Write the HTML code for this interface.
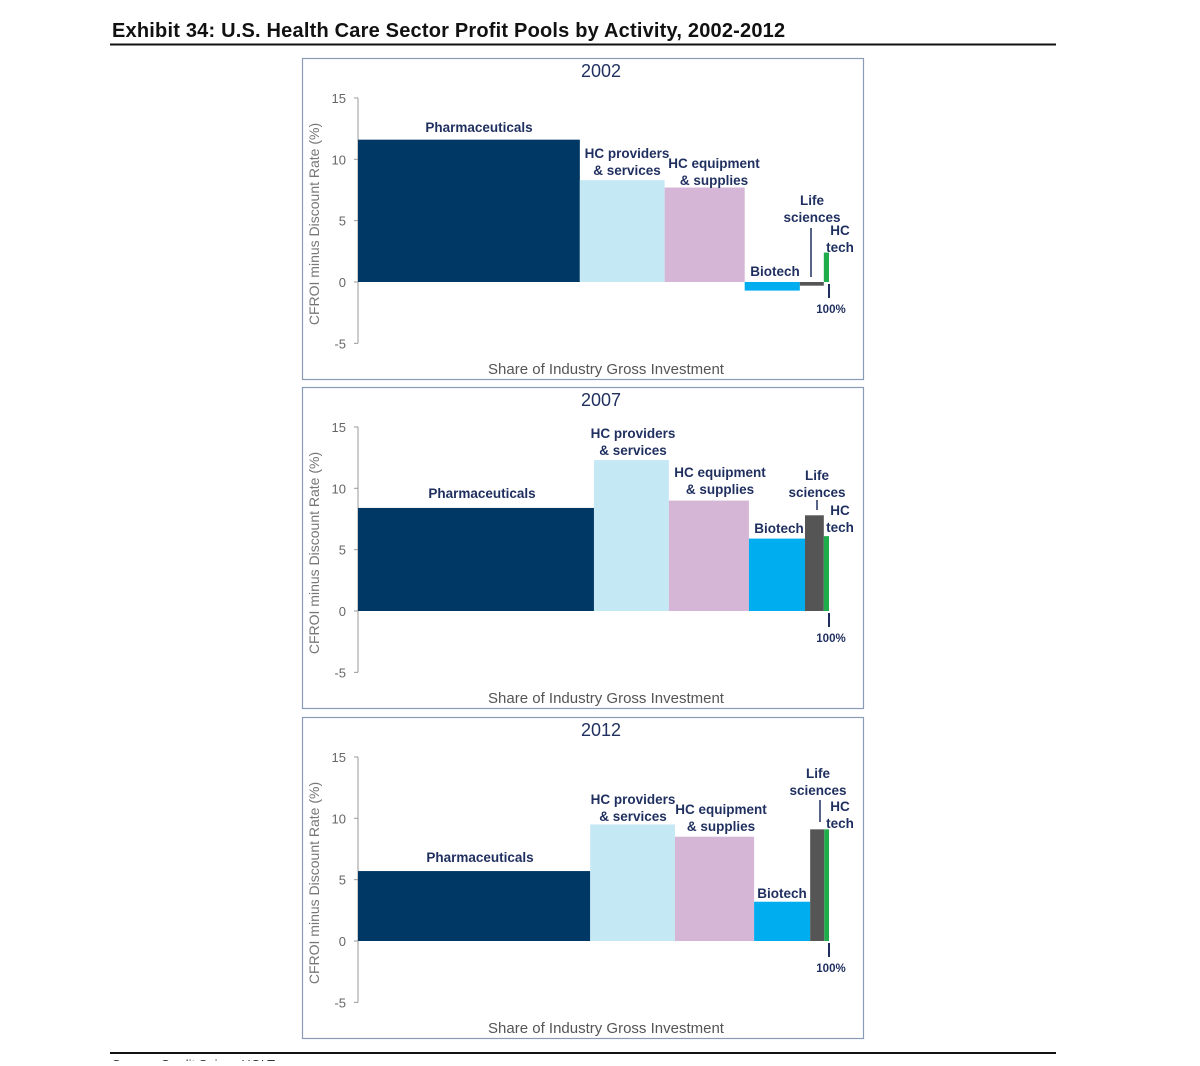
<!DOCTYPE html>
<html><head><meta charset="utf-8"><style>
body{margin:0;background:#fff;width:1200px;height:1061px;overflow:hidden;font-family:"Liberation Sans",sans-serif}
</style></head><body>
<svg id="chart" width="1200" height="1061" xmlns="http://www.w3.org/2000/svg" font-family="Liberation Sans, sans-serif">
<text x="112" y="37" font-size="20" font-weight="bold" fill="#111" letter-spacing="0.2">Exhibit 34: U.S. Health Care Sector Profit Pools by Activity, 2002-2012</text>
<line x1="110" y1="44.5" x2="1056" y2="44.5" stroke="#111" stroke-width="2"/>
<line x1="110" y1="1053" x2="1056" y2="1053" stroke="#111" stroke-width="2"/>
<text x="112" y="1069" font-size="13" fill="#333">Source: Credit Suisse HOLT</text>
<g id="panels"></g>
</svg>
<script>
const years = ["2002","2007","2012"];
const categories = ["Pharmaceuticals","HC providers & services","HC equipment & supplies","Biotech","Life sciences","HC tech"];
const shares2002 = [47.1,18.0,17.0,11.7,5.1,1.1];
const values2002 = [11.6,8.3,7.7,-0.7,-0.3,2.4];
const shares2007 = [50.1,15.9,17.0,11.9,4.0,1.1];
const values2007 = [8.4,12.3,9.0,5.9,7.8,6.1];
const shares2012 = [49.3,18.0,16.8,11.9,3.0,1.0];
const values2012 = [5.7,9.5,8.5,3.2,9.1,9.1];
const yTicks = [15,10,5,0,-5];
const colors = ["#003865","#c5e8f5","#d5b6d6","#00adef","#555555","#1fad4b"];
const sharesAll=[shares2002,shares2007,shares2012], valuesAll=[values2002,values2007,values2012];
const panelTops=[58,387,717];
const labelLayout=[
 [[479,132,["Pharmaceuticals"]],[627,158,["HC providers","& services"]],[714,168,["HC equipment","& supplies"]],[775,276,["Biotech"]],[812,205,["Life","sciences"]],[840,235,["HC","tech"]]],
 [[482,498,["Pharmaceuticals"]],[633,438,["HC providers","& services"]],[720,477,["HC equipment","& supplies"]],[779,533,["Biotech"]],[817,480,["Life","sciences"]],[840,515,["HC","tech"]]],
 [[480,862,["Pharmaceuticals"]],[633,804,["HC providers","& services"]],[721,814,["HC equipment","& supplies"]],[782,898,["Biotech"]],[818,778,["Life","sciences"]],[840,811,["HC","tech"]]]
];
const leaders=[[811,228,277],[817,500,510],[820,800,822]];
const NS="http://www.w3.org/2000/svg";
const root=document.getElementById("panels");
function mk(tag,attrs,parent){const e=document.createElementNS(NS,tag);for(const k in attrs)e.setAttribute(k,attrs[k]);(parent||root).appendChild(e);return e;}
years.forEach((yr,p)=>{
 const top=panelTops[p];
 const g=mk("g",{});
 
 
 const frame=mk("rect",{x:302.5,y:top+0.5,width:561,height:321,fill:"none",stroke:"#8a9bb8","stroke-width":1.2},g);
 
 
 const t=mk("text",{x:601,y:top+19,"font-size":18,"text-anchor":"middle",fill:"#1f2f5f"},g);t.textContent=yr;
 
 
 const x0=358,x1=829,zeroY=top+224,k=12.27;
 const Y=v=>zeroY-v*k, X=s=>x0+s/100*(x1-x0);
 const ax=mk("line",{x1:x0,x2:x0,y1:Y(15),y2:Y(-5),stroke:"#999","stroke-width":1},g);
 
 
 yTicks.forEach(v=>{
  mk("line",{x1:x0-4,x2:x0,y1:Y(v),y2:Y(v),stroke:"#999"},g);
  const tl=mk("text",{x:x0-12,y:Y(v)+5,"font-size":13,"text-anchor":"end",fill:"#666"},g);tl.textContent=v;
  
  
 });
 const at=mk("text",{transform:`translate(319,${zeroY-58}) rotate(-90)`,"font-size":14,"text-anchor":"middle",fill:"#777"},g);
 at.textContent="CFROI minus Discount Rate (%)";
 
 
 const xt=mk("text",{x:606,y:top+316,"font-size":15,"text-anchor":"middle",fill:"#555"},g);
 xt.textContent="Share of Industry Gross Investment";
 
 
 let cum=0;
 sharesAll[p].forEach((s,i)=>{
  const v=valuesAll[p][i];
  const xa=X(cum),xb=X(cum+s);cum+=s;
  const r=mk("rect",{x:xa,y:Math.min(Y(v),zeroY),width:xb-xa,height:Math.abs(Y(v)-zeroY),fill:colors[i]},g);
  
  
 });
 labelLayout[p].forEach((L,i)=>{
  const tx=mk("text",{x:L[0],y:L[1],"font-size":13.5,"font-weight":"bold","text-anchor":"middle",fill:"#1f2f5f"},g);
  L[2].forEach((ln,j)=>{const ts=mk("tspan",{x:L[0],dy:j?17:0},tx);ts.textContent=ln;});
  
  
 });
 const ld=leaders[p];
 mk("line",{x1:ld[0],x2:ld[0],y1:ld[1],y2:ld[2],stroke:"#1f2f5f","stroke-width":1.5},g);
 const m=mk("line",{x1:x1,x2:x1,y1:zeroY+2,y2:zeroY+16,stroke:"#1f2f5f","stroke-width":2},g);
 
 
 const mt=mk("text",{x:831,y:zeroY+31,"font-size":11.5,"font-weight":"bold","text-anchor":"middle",fill:"#1f2f5f"},g);mt.textContent="100%";
 
 
});
</script>
</body></html>
